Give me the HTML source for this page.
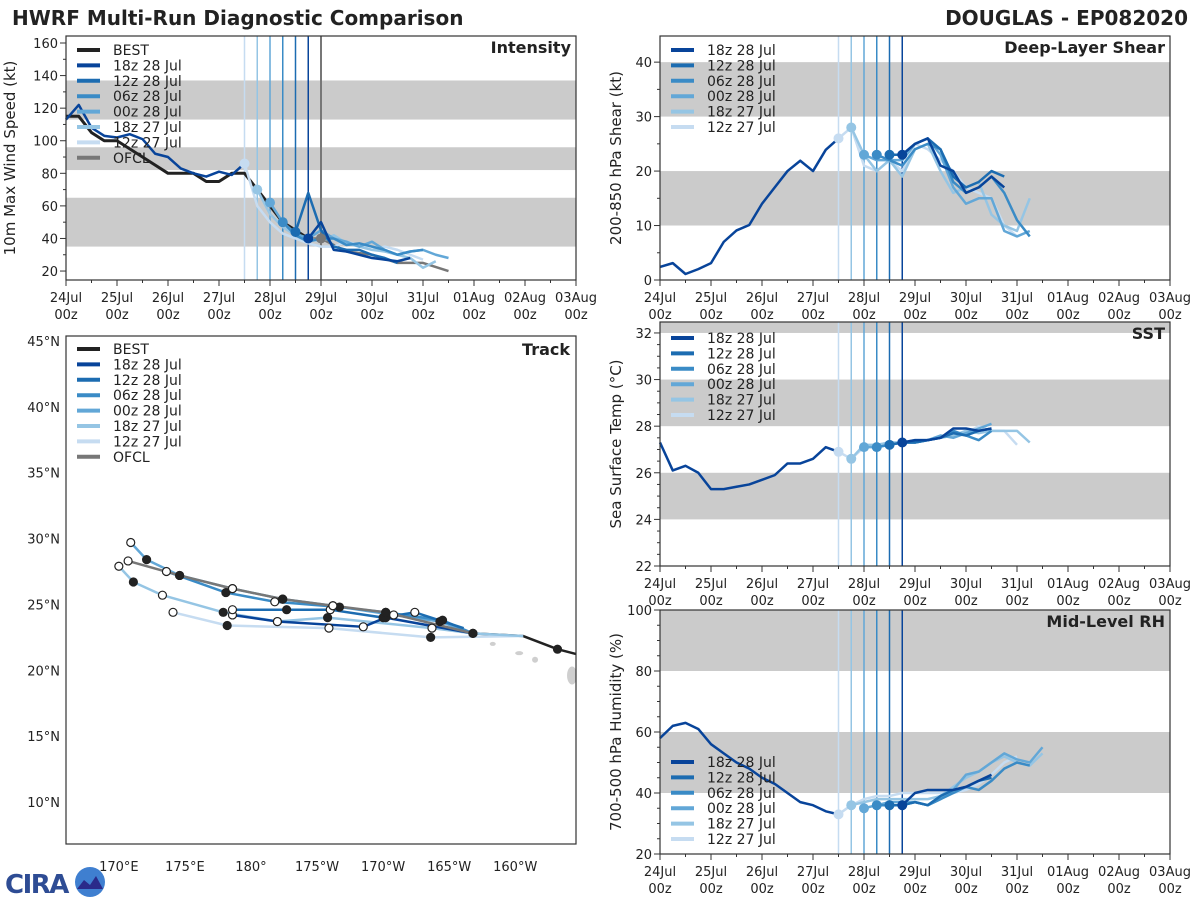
<!DOCTYPE html>
<html><head><meta charset="utf-8"><style>
html,body{margin:0;padding:0;background:#fff;width:1200px;height:900px;overflow:hidden}
svg{display:block;font-family:"DejaVu Sans","Liberation Sans",sans-serif}
</style></head><body>
<svg id="chart" width="1200" height="900" viewBox="0 0 1200 900"></svg>
<script>
// ---------- data ----------
const dayLabels = ['24Jul','25Jul','26Jul','27Jul','28Jul','29Jul','30Jul','31Jul','01Aug','02Aug','03Aug'];
const runNames = ['18z 28 Jul','12z 28 Jul','06z 28 Jul','00z 28 Jul','18z 27 Jul','12z 27 Jul'];
const runInit = [4.75, 4.5, 4.25, 4.0, 3.75, 3.5];
const runColors = ['#08449a','#1c6cb1','#3a8bc6','#62a7d7','#95c5e4','#c6dcf1'];

// Intensity (kt), 6-hourly
const intBestValues = [115,115,105,100,100,95,90,85,80,80,80,75,75,80,80,70,60,50,45,40];
const intHistValues = [113,122,108,103,102,104,101,92,90,83,80,78,81,79];
const ofclTimes = [4.75,5,5.5,6,6.5,7,7.5];
const ofclValues = [40,40,32,30,25,25,20];
const int18z28 = [40,50,33,32,30,28,27,26,28];
const int12z28 = [44,68,45,35,33,33,30,28,25];
const int06z28 = [50,42,38,40,40,36,37,35,33,30,32,33];
const int00z28 = [62,50,43,40,45,40,38,35,38,33,30,32,33,30,28];
const int18z27 = [70,55,47,42,40,38,42,37,35,33,32,30,28,22,26];
const int12z27 = [86,60,50,43,40,37,35,35,38,36,33,35,33,30,27];

// Shear (kt)
const shrHistValues = [2.4,3.1,1.1,2,3.1,7,9.1,10.1,14,17,20,21.9,20,23.9];
const shr18z28 = [23,25,26,21,20,16,17,19,17];
const shr12z28 = [23,23,25,26,24,19,17,18,20,19];
const shr06z28 = [23,22,21,24,25,24,18,16,17,19,16,11,8];
const shr00z28 = [23,22,22,22,25,26,23,17,14,15,15,9,8,9];
const shr18z27 = [28,23,20,22,19,24,25,20,16,17,18,12,10,9,15];
const shr12z27 = [26,28,21,20,22,20,25,24,22,20,17,16,15,10,8];

// SST (C)
const sstHistValues = [27.3,26.1,26.3,26.0,25.3,25.3,25.4,25.5,25.7,25.9,26.4,26.4,26.6,27.1];
const sst18z28 = [27.3,27.4,27.4,27.5,27.9,27.9,27.8,27.9];
const sst12z28 = [27.2,27.3,27.3,27.4,27.5,27.7,27.6,27.8,27.9];
const sst06z28 = [27.1,27.2,27.3,27.3,27.4,27.5,27.8,27.6,27.4,27.8];
const sst00z28 = [27.1,27.1,27.2,27.3,27.3,27.4,27.6,27.5,27.7,27.9,28.1];
const sst18z27 = [26.6,27.2,27.2,27.3,27.3,27.4,27.4,27.5,27.6,27.8,27.7,27.8,27.8,27.8,27.3];
const sst12z27 = [26.9,26.6,27.1,27.2,27.3,27.3,27.3,27.4,27.5,27.6,27.7,28.0,27.8,27.8,27.2];

// Mid-level RH (%)
const rhHistValues = [58,62,63,61,56,53,50,48,45,43,40,37,36,34];
const rh18z28 = [36,40,41,41,41,42,44,46];
const rh12z28 = [36,36,37,36,39,41,42,44,45];
const rh06z28 = [36,36,36,37,36,38,40,42,41,44,48,50,49];
const rh00z28 = [35,36,37,37,37,36,38,41,46,47,50,53,51,50,55];
const rh18z27 = [36,37,38,38,38,38,38,39,42,45,47,50,52,50,49,53];
const rh12z27 = [33,36,38,39,39,40,40,40,40,40,41,43,46,50,52];

// Track (lon in degrees east 0-360, lat N)
const trkBestLon = [205.5,203.2,200.6,196.8];
const trkBestLat = [21.0,21.6,22.6,22.8];
const trkOfclLon = [196.8,190.2,186.2,182.4,178.6,174.6,170.7];
const trkOfclLat = [22.8,24.4,24.9,25.4,26.2,27.2,28.3];
const trk18z28Lon = [196.8,190.2,188.5,182.0,178.6];
const trk18z28Lat = [22.8,24.0,23.3,23.7,24.2];
const trk12z28Lon = [196.1,192.4,190.0,186.0,182.7,178.6];
const trk12z28Lat = [23.2,24.4,24.0,24.6,24.6,24.6];
const trk06z28Lon = [196.8,194.5,190.2,186.7,181.8,178.1,173.6];
const trk06z28Lat = [22.8,23.8,24.4,24.8,25.2,25.9,27.5];
const trk00z28Lon = [196.8,194.3,190.8,186.2,182.4,178.6,174.6,172.1,170.9];
const trk00z28Lat = [22.8,23.7,24.2,24.9,25.4,26.2,27.2,28.4,29.7];
const trk18z27Lon = [200.6,196.8,193.7,185.8,182.0,177.9,173.3,171.1,170.0];
const trk18z27Lat = [22.6,22.8,23.2,24.0,23.7,24.4,25.7,26.7,27.9];
const trk12z27Lon = [200.6,193.6,185.9,178.2,174.1];
const trk12z27Lat = [22.6,22.5,23.2,23.4,24.4];

// ---------- drawing ----------
const NS='http://www.w3.org/2000/svg';
const svg=document.getElementById('chart');
function mk(tag,attrs,parent){const e=document.createElementNS(NS,tag);for(const k in attrs)e.setAttribute(k,attrs[k]);(parent||svg).appendChild(e);return e;}
function txt(s,attrs,parent){const e=mk('text',attrs,parent);e.textContent=s;return e;}

const ft=txt('HWRF Multi-Run Diagnostic Comparison',{x:12,y:25,'font-size':20,'font-weight':'bold',fill:'#222'});

const st=txt('DOUGLAS - EP082020',{x:1188,y:25,'font-size':20,'font-weight':'bold',fill:'#222','text-anchor':'end'});


function timePanel(o){
  const g=mk('g',{});
  
  
  const sx=t=>o.x0+t/10*o.w, sy=v=>o.y0+o.h-(v-o.ymin)/(o.ymax-o.ymin)*o.h;
  mk('rect',{x:o.x0,y:o.y0,width:o.w,height:o.h,fill:'#fff'},g);
  o.bands.forEach(b=>{const y1=Math.max(sy(b[1]),o.y0),y2=sy(b[0]);
    const r=mk('rect',{x:o.x0,y:y1,width:o.w,height:y2-y1,fill:'#cbcbcb'},g);
    });
  for(let i=runInit.length-1;i>=0;i--){const l=mk('line',{x1:sx(runInit[i]),x2:sx(runInit[i]),y1:o.y0,y2:o.y0+o.h,stroke:runColors[i],'stroke-width':1.5},g);
    }
  if(o.ofcl){const l=mk('line',{x1:sx(5),x2:sx(5),y1:o.y0,y2:o.y0+o.h,stroke:'#777','stroke-width':2},g);
    }
  const line=(ts,vs,col,w,nm)=>{const p=mk('polyline',{points:ts.map((t,i)=>sx(t)+','+sy(vs[i])).join(' '),fill:'none',stroke:col,'stroke-width':w,'stroke-linejoin':'round'},g);
    return p;};
  const seq=(s,n)=>Array.from({length:n},(_,i)=>s+i*0.25);
  if(o.best) line(seq(0,o.best.length),o.best,'#222',3,'best-line');
  line(seq(0,o.hist.length+1),o.hist.concat([o.runs[5][0]]),'#08449a',2.5,'analysis-line');
  if(o.ofcl) line(o.ofcl[0],o.ofcl[1],'#777',2.5,'ofcl-line');
  for(let i=runInit.length-1;i>=0;i--){
    const vs=o.runs[i];line(seq(runInit[i],vs.length),vs,runColors[i],2.5,'forecast-'+runNames[i].replace(/ /g,'-').toLowerCase());
  }
  for(let i=runInit.length-1;i>=0;i--){const c=mk('circle',{cx:sx(runInit[i]),cy:sy(o.runs[i][0]),r:5,fill:runColors[i]},g);
    }
  if(o.ofcl){const c=mk('circle',{cx:sx(5),cy:sy(o.ofcl[1][1]),r:5,fill:'#777'},g);}
  mk('rect',{x:o.x0,y:o.y0,width:o.w,height:o.h,fill:'none',stroke:'#333','stroke-width':1.2},g);
  for(let d=0;d<=10;d+=0.5){const X=sx(d),len=d%1===0?6:3;mk('line',{x1:X,x2:X,y1:o.y0+o.h,y2:o.y0+o.h+len,stroke:'#333'},g);
    if(d%1===0){const t1=txt(dayLabels[d],{x:X,y:o.y0+o.h+22,'font-size':13,'text-anchor':'middle',fill:'#222'},g);
      txt('00z',{x:X,y:o.y0+o.h+39,'font-size':13,'text-anchor':'middle',fill:'#222'},g);}}
  for(let v=o.ymin0;v<=o.ymax;v+=o.minor){const Y=sy(v);const maj=Math.abs(((v-o.ymin0)/o.major)-Math.round((v-o.ymin0)/o.major))<1e-6;
    mk('line',{x1:o.x0,x2:o.x0-(maj?6:3),y1:Y,y2:Y,stroke:'#333'},g);
    if(maj){const t=txt(String(v),{x:o.x0-8,y:Y+5,'font-size':13,'text-anchor':'end',fill:'#222'},g);}}
  const yt=txt(o.ylabel,{x:0,y:0,'font-size':15,'text-anchor':'middle',fill:'#222',transform:`translate(${o.ylx},${o.y0+o.h/2}) rotate(-90)`},g);
  
  const pt=txt(o.title,{x:o.x0+o.w-5,y:o.y0+17,'font-size':16,'font-weight':'bold','text-anchor':'end',fill:'#222'},g);
  
  let entries=[];if(o.best)entries.push(['BEST','#222']);
  runNames.forEach((n,i)=>entries.push([n,runColors[i]]));
  if(o.ofcl)entries.push(['OFCL','#777']);
  entries.forEach((e,i)=>{const Y=o.legY+i*15.4;const lg=mk('g',{},g);
    mk('line',{x1:o.x0+11,x2:o.x0+34,y1:Y,y2:Y,stroke:e[1],'stroke-width':4},lg);
    txt(e[0],{x:o.x0+47,y:Y+5,'font-size':14,fill:'#222'},lg);});
}

timePanel({name:'intensity-panel',x0:66,y0:36,w:510,h:244,ymin:14.5,ymax:164.3,ymin0:20,major:20,minor:10,
  bands:[[35,65],[82,96],[113,137]],best:intBestValues,hist:intHistValues,ofcl:[ofclTimes,ofclValues],
  runs:[int18z28,int12z28,int06z28,int00z28,int18z27,int12z27],ylabel:'10m Max Wind Speed (kt)',ylx:15,title:'Intensity',legY:50});
timePanel({name:'shear-panel',x0:660,y0:36,w:510,h:244,ymin:0,ymax:44.8,ymin0:0,major:10,minor:5,
  bands:[[10,20],[30,40]],hist:shrHistValues,runs:[shr18z28,shr12z28,shr06z28,shr00z28,shr18z27,shr12z27],
  ylabel:'200-850 hPa Shear (kt)',ylx:621,title:'Deep-Layer Shear',legY:50});
timePanel({name:'sst-panel',x0:660,y0:322,w:510,h:244,ymin:22,ymax:32.47,ymin0:22,major:2,minor:0.5,
  bands:[[24,26],[28,30],[32,34]],hist:sstHistValues,runs:[sst18z28,sst12z28,sst06z28,sst00z28,sst18z27,sst12z27],
  ylabel:'Sea Surface Temp (°C)',ylx:621,title:'SST',legY:338});
timePanel({name:'rh-panel',x0:660,y0:610,w:510,h:244,ymin:20,ymax:100,ymin0:20,major:20,minor:5,
  bands:[[40,60],[80,100]],hist:rhHistValues,runs:[rh18z28,rh12z28,rh06z28,rh00z28,rh18z27,rh12z27],
  ylabel:'700-500 hPa Humidity (%)',ylx:621,title:'Mid-Level RH',legY:762});

// ---------- track panel ----------
(function(){
  const g=mk('g',{});
  const x0=66,y0=336,w=510,h=508,lon0=166.0,lon1=204.6,lat0=6.81,lat1=45.38;
  const px=l=>x0+(l-lon0)/(lon1-lon0)*w, py=l=>y0+h-(l-lat0)/(lat1-lat0)*h;
  mk('rect',{x:x0,y:y0,width:w,height:h,fill:'#fff'},g);
  const cp=mk('clipPath',{id:'trkclip'},g);mk('rect',{x:x0,y:y0,width:w,height:h},cp);
  const gg=mk('g',{'clip-path':'url(#trkclip)'},g);
  [[198.3,22.0,3,2],[200.3,21.3,4,2],[201.5,20.8,3,3],[204.3,19.6,5,9]].forEach(a=>{const e=mk('ellipse',{cx:px(a[0]),cy:py(a[1]),rx:a[2],ry:a[3],fill:'#cfcfcf'},gg);});
  const tl=(lo,la,col,wd,nm)=>{const p=mk('polyline',{points:lo.map((v,i)=>px(v)+','+py(la[i])).join(' '),fill:'none',stroke:col,'stroke-width':wd,'stroke-linejoin':'round'},gg);};
  const runs=[[trk18z28Lon,trk18z28Lat],[trk12z28Lon,trk12z28Lat],[trk06z28Lon,trk06z28Lat],[trk00z28Lon,trk00z28Lat],[trk18z27Lon,trk18z27Lat],[trk12z27Lon,trk12z27Lat]];
  tl(trkBestLon,trkBestLat,'#222',2.5,'best-track');
  for(let i=5;i>=0;i--) tl(runs[i][0],runs[i][1],runColors[i],2.5,'track-'+runNames[i].replace(/ /g,'-').toLowerCase());
  tl(trkOfclLon,trkOfclLat,'#777',2.5,'ofcl-track');
  const dot=(lo,la,fill)=>{const c=mk('circle',{cx:px(lo),cy:py(la),r:4,fill:fill,stroke:'#222','stroke-width':1.2},gg);};
  runs.concat([[trkOfclLon,trkOfclLat]]).forEach(r=>{for(let k=1;k<r[0].length;k++){dot(r[0][k],r[1][k],(r[0].length-1-k)%2===0?'#fff':'#222');}});
  dot(trkBestLon[1],trkBestLat[1],'#222');dot(trkBestLon[3],trkBestLat[3],'#222');
  mk('rect',{x:x0,y:y0,width:w,height:h,fill:'none',stroke:'#333','stroke-width':1.2},g);
  [10,15,20,25,30,35,40,45].forEach(l=>{const Y=py(l);
    const t=txt(l+'°N',{x:x0-6,y:Y+5,'font-size':13,'text-anchor':'end',fill:'#222'},g);});
  const lonVals=[170,175,180,185,190,195,200];const lonLabels=['170°E','175°E','180°','175°W','170°W','165°W','160°W'];
  lonVals.forEach((l,i)=>{const t=txt(lonLabels[i],{x:px(l),y:871,'font-size':13,'text-anchor':'middle',fill:'#222'},g);});
  const tt=txt('Track',{x:x0+w-6,y:y0+19,'font-size':16,'font-weight':'bold','text-anchor':'end',fill:'#222'},g);
  
  const ent=[['BEST','#222']].concat(runNames.map((n,i)=>[n,runColors[i]])).concat([['OFCL','#777']]);
  ent.forEach((e,i)=>{const Y=349+i*15.4;const lg=mk('g',{},g);
    mk('line',{x1:77,x2:100,y1:Y,y2:Y,stroke:e[1],'stroke-width':4},lg);txt(e[0],{x:113,y:Y+5,'font-size':14,fill:'#222'},lg);});
})();

// ---------- logo ----------
(function(){
  const g=mk('g',{});
  txt('CIRA',{x:5,y:893,'font-size':26,'font-weight':'bold',fill:'#2e4c94','letter-spacing':'-1.5'},g);
  mk('circle',{cx:90,cy:882,r:15,fill:'#3f7fd0'},g);
  mk('path',{d:'M77,889 L84,880 L90,885 L96,876 L103,889 Z',fill:'#2a2a8a'},g);
})();
</script>
</body></html>
